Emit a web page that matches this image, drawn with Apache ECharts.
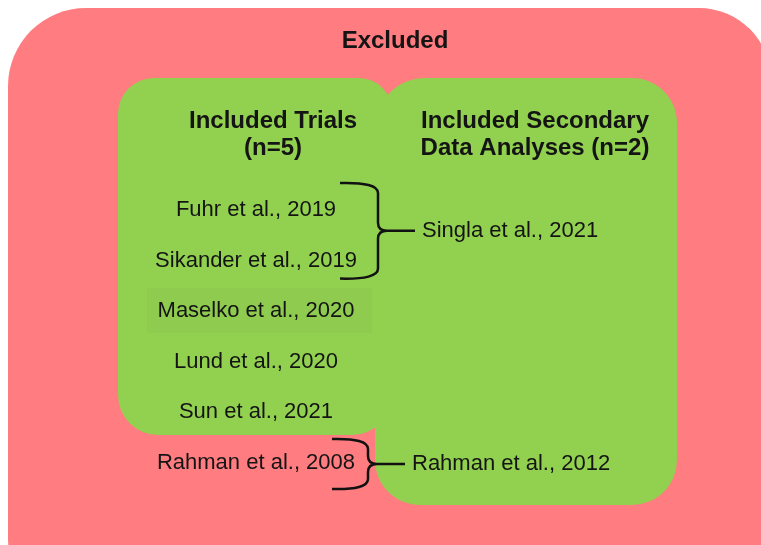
<!DOCTYPE html>
<html>
<head>
<meta charset="utf-8">
<script src="https://cdn.jsdelivr.net/npm/echarts@6/dist/echarts.min.js"></script>
<style>html,body{margin:0;padding:0;background:#fff}#c{width:761px;height:545px}</style>
</head>
<body>
<div id="c"></div>
<script>
// ---- data ----
const groupTitles = ['Excluded', 'Included Trials', 'Included Secondary Data Analyses'];
const groupCounts = [null, 5, 2];
const trials = ['Fuhr et al., 2019', 'Sikander et al., 2019', 'Maselko et al., 2020', 'Lund et al., 2020', 'Sun et al., 2021'];
const excludedTrials = ['Rahman et al., 2008'];
const secondary = ['Singla et al., 2021', 'Rahman et al., 2012'];
const secondarySources = [[0, 1], [5]]; // row indices of the source trials (row 5 = excluded trial)

// ---- layout (diagram units = axis units) ----
const rowTop = 210, rowStep = 50.6;
const rowY = i => rowTop + i * rowStep;
const leftColX = 256;
const braceX = [378, 368];      // x of brace spine per link
const braceArm = [38, 36];
const braceTopOff = [-27, -24], braceBotOff = [18, 26];
const textFont = '22px "Liberation Sans", Arial, sans-serif';
const titleFont = 'bold 24px "Liberation Sans", Arial, sans-serif';
const RED = '#ff7c80', GREEN = '#92d050';

const regions = [
  {x0: 8, y0: 8, x1: 771, y1: 610, r: [78, 72, 72, 72], fill: RED},
  {x0: 118, y0: 78, x1: 392, y1: 435, r: [36, 33, 40, 40], fill: GREEN},
  {x0: 375, y0: 78, x1: 677, y1: 505, r: [50, 45, 45, 45], fill: GREEN},
  {x0: 147, y0: 288, x1: 372, y1: 333, r: 0, fill: '#8fcb4f'}
];

const labels = [];
labels.push({t: groupTitles[0], x: 395, y: 41, font: titleFont, align: 'center'});
labels.push({t: groupTitles[1], x: 273, y: 121, font: titleFont, align: 'center'});
labels.push({t: '(n=' + groupCounts[1] + ')', x: 273, y: 148, font: titleFont, align: 'center'});
labels.push({t: 'Included Secondary', x: 535, y: 121, font: titleFont, align: 'center'});
labels.push({t: 'Data Analyses (n=' + groupCounts[2] + ')', x: 535, y: 148, font: titleFont, align: 'center'});
trials.forEach((t, i) => labels.push({t, x: leftColX, y: rowY(i), font: textFont, align: 'center'}));
excludedTrials.forEach((t, i) => labels.push({t, x: leftColX, y: rowY(trials.length + i), font: textFont, align: 'center'}));

const braces = secondarySources.map((src, k) => {
  const top = rowY(src[0]) + braceTopOff[k], bot = rowY(src[src.length - 1]) + braceBotOff[k];
  const mid = (top + bot) / 2;
  const sx = braceX[k];
  labels.push({t: secondary[k], x: sx + 44, y: mid, font: textFont, align: 'left'});
  return {top, bot, mid, sx, arm: braceArm[k]};
});

const chart = echarts.init(document.getElementById('c'), null, {renderer: 'canvas'});
chart.setOption({
  animation: false,
  grid: {left: 0, right: 0, top: 0, bottom: 0},
  xAxis: {type: 'value', min: 0, max: 761, show: false},
  yAxis: {type: 'value', min: 0, max: 545, inverse: true, show: false},
  series: [
    {
      type: 'custom', coordinateSystem: 'cartesian2d', clip: false, silent: true,
      data: regions.map((r, i) => [r.x0, r.y0, i]),
      renderItem: (params, api) => {
        const r = regions[api.value(2)];
        const p0 = api.coord([r.x0, r.y0]), p1 = api.coord([r.x1, r.y1]);
        return {type: 'rect', shape: {x: p0[0], y: p0[1], width: p1[0] - p0[0], height: p1[1] - p0[1], r: r.r}, style: {fill: r.fill}};
      }
    },
    {
      type: 'custom', coordinateSystem: 'cartesian2d', clip: false, silent: true,
      data: braces.map((b, i) => [b.sx, b.mid, i]),
      renderItem: (params, api) => {
        const b = braces[api.value(2)];
        const c = (x, y) => api.coord([x, y]);
        const L = b.sx - b.arm;
        const a = c(L, b.top), q1 = c(b.sx, b.top - 1), s1 = c(b.sx, b.top + 10), s2 = c(b.sx, b.mid - 8),
              q2 = c(b.sx, b.mid), tip = c(b.sx + 9, b.mid), s3 = c(b.sx, b.mid + 8), s4 = c(b.sx, b.bot - 10),
              q4 = c(b.sx, b.bot + 1), e = c(L, b.bot), st = c(b.sx + 37, b.mid);
        const d = `M${a[0]} ${a[1]} Q${q1[0]} ${q1[1]} ${s1[0]} ${s1[1]} L${s2[0]} ${s2[1]} Q${q2[0]} ${q2[1]} ${tip[0]} ${tip[1]} ` +
                  `Q${q2[0]} ${q2[1]} ${s3[0]} ${s3[1]} L${s4[0]} ${s4[1]} Q${q4[0]} ${q4[1]} ${e[0]} ${e[1]} ` +
                  `M${tip[0] - 2} ${tip[1]} L${st[0]} ${st[1]}`;
        return {type: 'path', shape: {pathData: d}, style: {fill: null, stroke: '#111', lineWidth: 2.5, lineJoin: 'round'}};
      }
    },
    {
      type: 'custom', coordinateSystem: 'cartesian2d', clip: false, silent: true,
      data: labels.map((l, i) => [l.x, l.y, i]),
      renderItem: (params, api) => {
        const l = labels[api.value(2)];
        const p = api.coord([l.x, l.y]);
        return {type: 'text', style: {text: l.t, x: p[0], y: p[1], font: l.font, align: l.align, verticalAlign: 'middle', fill: '#141414'}};
      }
    }
  ]
});
</script>
</body>
</html>
